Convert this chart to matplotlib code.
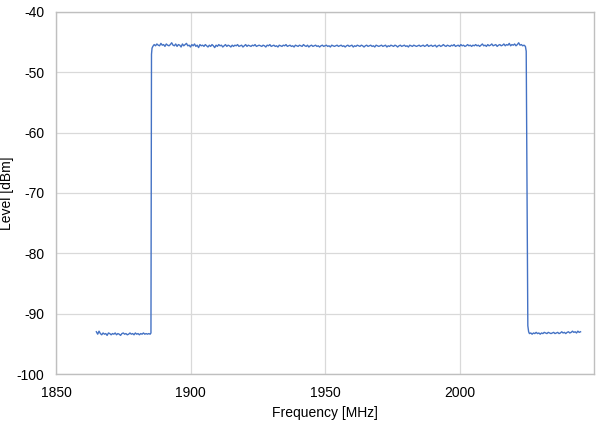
import numpy as np
import matplotlib
matplotlib.use("Agg")
import matplotlib.pyplot as plt

plt.rcParams['font.family'] = ['Liberation Sans', 'DejaVu Sans']
plt.rcParams['axes.unicode_minus'] = False

# Data
low_left_freq = np.arange(1865.0, 1885.01, 0.5)
low_left_level = [-93.0,-93.4,-92.9,-93.3,-93.5,-93.2,-93.4,-93.3,-93.6,-93.2,-93.3,-93.5,-93.3,-93.4,-93.2,-93.5,-93.3,-93.4,-93.6,-93.3,
                  -93.2,-93.4,-93.3,-93.5,-93.4,-93.2,-93.4,-93.3,-93.5,-93.2,-93.4,-93.3,-93.5,-93.3,-93.4,-93.2,-93.4,-93.3,-93.4,-93.3,-93.4]
rise_freq = [1885.3, 1885.5, 1885.7]
rise_level = [-93.2, -47.0, -46.0]
top_freq = np.arange(1886.0, 2024.51, 0.5)
top_level = [
    -45.7,-45.4,-45.6,-45.3,-45.5,-45.6,-45.2,-45.5,-45.4,-45.7,-45.3,-45.5,-45.6,-45.4,-45.1,-45.5,-45.6,-45.3,-45.7,-45.4,
    -45.5,-45.8,-45.3,-45.6,-45.4,-45.2,-45.6,-45.5,-45.8,-45.4,-45.6,-45.3,-45.7,-45.5,-45.9,-45.4,-45.6,-45.5,-45.7,-45.4,
    -45.6,-45.8,-45.5,-45.7,-45.4,-45.6,-45.9,-45.5,-45.7,-45.4,-45.6,-45.5,-45.8,-45.6,-45.4,-45.7,-45.5,-45.6,-45.8,-45.5,
    -45.7,-45.5,-45.6,-45.4,-45.7,-45.6,-45.5,-45.8,-45.6,-45.4,-45.7,-45.5,-45.6,-45.7,-45.5,-45.6,-45.4,-45.7,-45.6,-45.5,
    -45.6,-45.7,-45.5,-45.6,-45.8,-45.5,-45.6,-45.4,-45.7,-45.6,-45.5,-45.7,-45.6,-45.8,-45.5,-45.6,-45.7,-45.5,-45.6,-45.4,
    -45.7,-45.6,-45.5,-45.7,-45.6,-45.8,-45.5,-45.6,-45.7,-45.5,-45.6,-45.7,-45.4,-45.6,-45.7,-45.5,-45.8,-45.6,-45.5,-45.7,
    -45.6,-45.5,-45.7,-45.6,-45.8,-45.6,-45.5,-45.7,-45.6,-45.5,-45.7,-45.6,-45.8,-45.5,-45.6,-45.7,-45.6,-45.5,-45.7,-45.6,
    -45.5,-45.7,-45.6,-45.8,-45.6,-45.5,-45.7,-45.6,-45.5,-45.8,-45.6,-45.7,-45.5,-45.6,-45.7,-45.5,-45.6,-45.8,-45.6,-45.5,
    -45.7,-45.6,-45.5,-45.7,-45.6,-45.8,-45.5,-45.6,-45.7,-45.6,-45.5,-45.7,-45.6,-45.5,-45.8,-45.6,-45.7,-45.5,-45.6,-45.7,
    -45.5,-45.6,-45.8,-45.6,-45.5,-45.7,-45.6,-45.5,-45.7,-45.6,-45.8,-45.5,-45.6,-45.7,-45.5,-45.6,-45.7,-45.6,-45.5,-45.7,
    -45.6,-45.5,-45.7,-45.6,-45.4,-45.7,-45.6,-45.5,-45.7,-45.6,-45.5,-45.8,-45.6,-45.5,-45.7,-45.6,-45.4,-45.6,-45.7,-45.5,
    -45.6,-45.7,-45.5,-45.6,-45.4,-45.7,-45.6,-45.5,-45.7,-45.4,-45.6,-45.5,-45.7,-45.6,-45.4,-45.6,-45.5,-45.7,-45.5,-45.6,
    -45.4,-45.6,-45.5,-45.7,-45.5,-45.3,-45.6,-45.5,-45.7,-45.4,-45.6,-45.5,-45.3,-45.6,-45.5,-45.4,-45.7,-45.5,-45.4,-45.6,
    -45.5,-45.3,-45.6,-45.4,-45.5,-45.2,-45.6,-45.4,-45.5,-45.3,-45.6,-45.4,-45.1,-45.5,-45.4,-45.6,-45.5,-45.7]
fall_freq = [2024.8, 2025.1, 2025.4, 2025.7]
fall_level = [-46.5, -70.0, -92.0, -93.0]
low_right_freq = np.arange(2026.0, 2045.01, 0.5)
low_right_level = [-93.3,-93.2,-93.4,-93.2,-93.3,-93.1,-93.3,-93.2,-93.4,-93.2,-93.3,-93.1,-93.2,-93.3,-93.1,-93.2,-93.3,-93.2,-93.1,-93.3,
                   -93.2,-93.1,-93.3,-93.2,-93.0,-93.2,-93.1,-93.3,-93.1,-93.0,-93.2,-93.1,-92.9,-93.1,-93.0,-93.2,-92.9,-93.1,-93.0]

freq = np.concatenate([low_left_freq, rise_freq, top_freq, fall_freq, low_right_freq])
level = np.concatenate([low_left_level, rise_level, top_level, fall_level, low_right_level])

x_ticks = [1850, 1900, 1950, 2000]
y_ticks = [-100, -90, -80, -70, -60, -50, -40]

fig = plt.figure(figsize=(6.03, 4.34), dpi=100)
ax = fig.add_axes([56/603, 1-374/434, (594-56)/603, (374-12)/434])
ax.plot(freq, level, color='#4472C4', lw=1.0)
ax.set_xlim(1850, 2050)
ax.set_ylim(-100, -40)
ax.set_xticks(x_ticks)
ax.set_yticks(y_ticks)
ax.grid(True, color='#d9d9d9', lw=0.9)
ax.set_axisbelow(True)
for s in ax.spines.values():
    s.set_color('#bfbfbf')
    s.set_linewidth(1.0)
ax.tick_params(length=0, labelsize=10, colors='black', pad=8.5)
ax.set_xlabel('Frequency [MHz]', fontsize=10)
ax.set_ylabel('Level [dBm]', fontsize=10)
ax.yaxis.set_label_coords(-0.078, 0.5)
ax.xaxis.set_label_coords(0.5, -0.088)
fig.savefig('out.png', dpi=100)
